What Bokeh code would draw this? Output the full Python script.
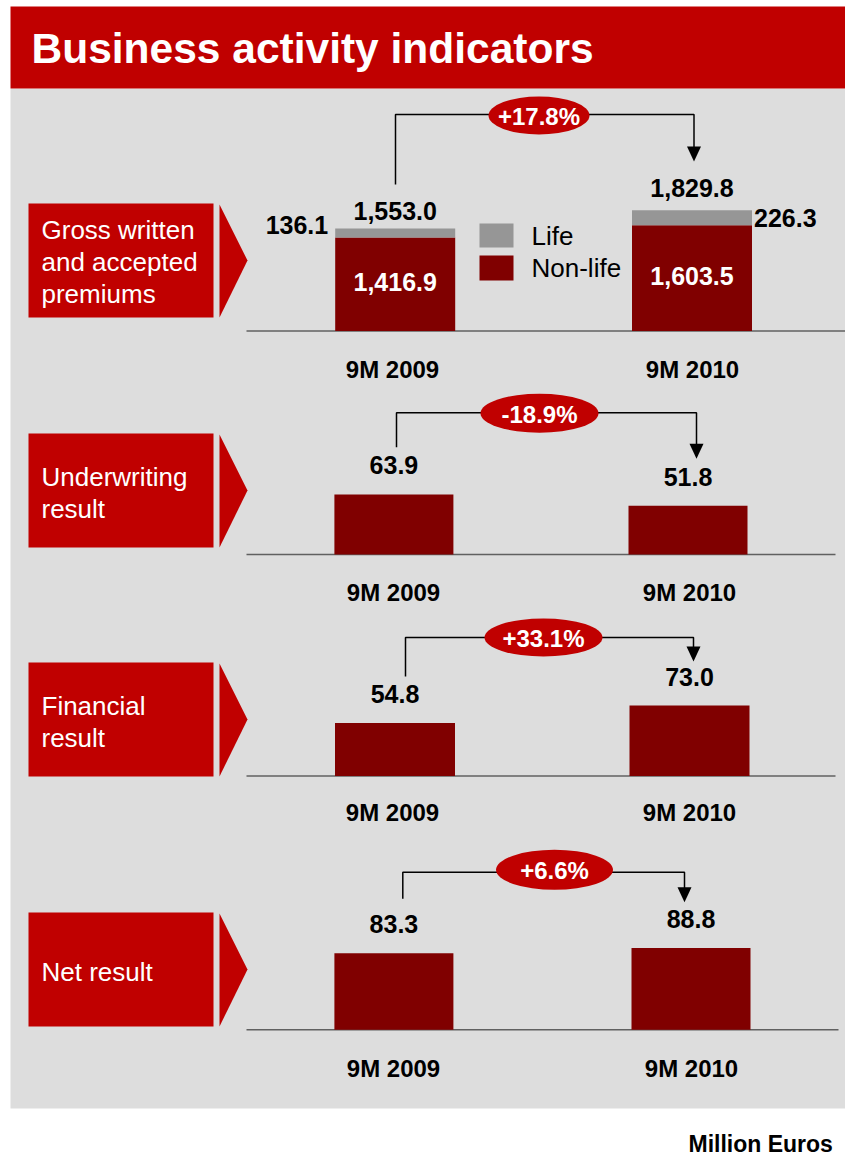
from bokeh.plotting import figure
from bokeh.models import Range1d
from bokeh.embed import file_html
from bokeh.resources import INLINE
from bokeh.core.properties import value

# ---------------- data ----------------
title = "Business activity indicators"
unit_note = "Million Euros"
periods = ["9M 2009", "9M 2010"]
series_names = ["Life", "Non-life"]

gwp_life = [136.1, 226.3]
gwp_nonlife = [1416.9, 1603.5]
gwp_total = [1553.0, 1829.8]
gwp_change = "+17.8%"

uw_result = [63.9, 51.8]
uw_change = "-18.9%"

fin_result = [54.8, 73.0]
fin_change = "+33.1%"

net_result = [83.3, 88.8]
net_change = "+6.6%"

panel_titles = [
    ["Gross written", "and accepted", "premiums"],
    ["Underwriting", "result"],
    ["Financial", "result"],
    ["Net result"],
]

# ---------------- style ----------------
RED = "#C00000"
DARK = "#800000"
GREY = "#969696"
BG = "#DDDDDD"
AXIS = "#606060"
FONT = value("Liberation Sans")

W, H = 845, 1158

p = figure(width=W, height=H, x_range=Range1d(0, W), y_range=Range1d(H, 0),
           output_backend="svg", toolbar_location=None,
           x_axis_location=None, y_axis_location=None, min_border=0)
p.grid.visible = False
p.outline_line_color = None
p.background_fill_color = "white"
p.border_fill_color = "white"

# background areas
p.quad(left=[10], right=[845], top=[88], bottom=[1108], color=BG, line_color=None)
p.quad(left=[10], right=[845], top=[6], bottom=[88], color=RED, line_color=None)
p.text(x=[31], y=[48], text=[title], text_color="white", text_font=FONT,
       text_font_style="bold", text_font_size=value("42.5px"), text_baseline="middle")
p.text(x=[688], y=[1143], text=[unit_note], text_color="black", text_font=FONT,
       text_font_style="bold", text_font_size=value("23px"), text_baseline="middle")

# ---------------- panel layouts ----------------
panels = [
    dict(name="gwp", base=330.5, k=0.066, box=(203, 317), tl=[229, 261, 293],
         bx=[394.7, 691.5], bw=120, ax1=845, cat_y=368.5, cat_x=[392, 692],
         arrow=dict(y=114, xl=395, xr=693.5, yl=184, tip=161),
         ell=(538.5, 115, 101, 38), change=gwp_change, vals=gwp_total),
    dict(name="uw", base=554, k=0.94, box=(433, 547), tl=[476, 508],
         bx=[393.4, 687.5], bw=119, ax1=835, cat_y=591.5, cat_x=[393, 689],
         arrow=dict(y=412.3, xl=396, xr=696, yl=446.7, tip=458.3),
         ell=(539, 412.7, 118, 39), change=uw_change, vals=uw_result),
    dict(name="fin", base=775.5, k=0.965, box=(662, 776), tl=[705, 737],
         bx=[394.5, 689], bw=120, ax1=835, cat_y=811.5, cat_x=[392, 689],
         arrow=dict(y=637, xl=405, xr=693, yl=676, tip=661),
         ell=(543, 637, 118, 38), change=fin_change, vals=fin_result),
    dict(name="net", base=1029.3, k=0.92, box=(912, 1026), tl=[971],
         bx=[393.4, 690.5], bw=119, ax1=838, cat_y=1067.5, cat_x=[393, 691],
         arrow=dict(y=871.7, xl=402.3, xr=684, yl=898.3, tip=901.7),
         ell=(554, 869.3, 117, 40), change=net_change, vals=net_result),
]

ranges = {}
for pn in panels:
    b, k = pn["base"], pn["k"]
    ranges[pn["name"]] = Range1d(start=(b - H) / k, end=b / k)
p.extra_y_ranges = ranges

for i, pn in enumerate(panels):
    t, bt = pn["box"]
    # label box + chevron
    p.quad(left=[28], right=[213], top=[t], bottom=[bt], color=RED, line_color=None)
    p.patch(x=[219, 247, 219], y=[t + 1, (t + bt) / 2, bt], color=RED, line_color=None)
    for line, ym in zip(panel_titles[i], pn["tl"]):
        p.text(x=[41], y=[ym], text=[line], text_color="white", text_font=FONT,
               text_font_size=value("26px"), text_baseline="middle")
    # baseline
    p.segment(x0=[246], x1=[pn["ax1"]], y0=[0], y1=[0], line_color=AXIS,
              line_width=1.5, y_range_name=pn["name"])
    # category labels
    p.text(x=pn["cat_x"], y=[pn["cat_y"]] * 2, text=periods, text_color="black",
           text_font=FONT, text_font_style="bold", text_font_size=value("24px"),
           text_align="center", text_baseline="middle")
    # change arrow
    a = pn["arrow"]
    p.line(x=[a["xl"], a["xl"], a["xr"], a["xr"]],
           y=[a["yl"], a["y"], a["y"], a["tip"] - 10], line_color="black", line_width=1.5)
    p.patch(x=[a["xr"] - 7, a["xr"] + 7, a["xr"]], y=[a["tip"] - 15, a["tip"] - 15, a["tip"]],
            color="black", line_color=None)
    ex, ey, ew, eh = pn["ell"]
    p.ellipse(x=[ex], y=[ey], width=[ew], height=[eh], color=RED, line_color=None)
    p.text(x=[ex], y=[ey + 1], text=[pn["change"]], text_color="white", text_font=FONT,
           text_font_style="bold", text_font_size=value("24px"), text_align="center",
           text_baseline="middle")

# ---------------- panel 1: stacked bars ----------------
g = panels[0]
p.vbar(x=g["bx"], bottom=0, top=gwp_nonlife, width=g["bw"], color=DARK,
       line_color=None, y_range_name="gwp")
p.vbar(x=g["bx"], bottom=gwp_nonlife, top=gwp_total, width=g["bw"], color=GREY,
       line_color=None, y_range_name="gwp")
p.text(x=g["bx"], y=[v / 2 for v in gwp_nonlife], text=[f"{v:,.1f}" for v in gwp_nonlife],
       y_offset=-2, text_color="white", text_font=FONT, text_font_style="bold",
       text_font_size=value("25px"), text_align="center", text_baseline="middle",
       y_range_name="gwp")
p.text(x=g["bx"], y=gwp_total, text=[f"{v:,.1f}" for v in gwp_total],
       y_offset=[-18, -22], text_color="black", text_font=FONT, text_font_style="bold",
       text_font_size=value("25px"), text_align="center", text_baseline="middle",
       y_range_name="gwp")
p.text(x=[g["bx"][0] - g["bw"] / 2 - 7], y=[gwp_total[0]], text=[f"{gwp_life[0]:,.1f}"],
       y_offset=-4, text_color="black", text_font=FONT, text_font_style="bold",
       text_font_size=value("25px"), text_align="right", text_baseline="middle",
       y_range_name="gwp")
p.text(x=[g["bx"][1] + g["bw"] / 2 + 2], y=[gwp_total[1]], text=[f"{gwp_life[1]:,.1f}"],
       y_offset=8, text_color="black", text_font=FONT, text_font_style="bold",
       text_font_size=value("25px"), text_align="left", text_baseline="middle",
       y_range_name="gwp")
# legend
p.quad(left=[479, 479], right=[513, 513], top=[223, 255], bottom=[247, 280],
       color=[GREY, DARK], line_color=None)
p.text(x=[531, 531], y=[235, 267], text=series_names, text_color="black", text_font=FONT,
       text_font_size=value("26px"), text_baseline="middle")

# ---------------- panels 2-4: single bars ----------------
for pn in panels[1:]:
    p.vbar(x=pn["bx"], bottom=0, top=pn["vals"], width=pn["bw"], color=DARK,
           line_color=None, y_range_name=pn["name"])
    p.text(x=pn["bx"], y=pn["vals"], text=[f"{v:,.1f}" for v in pn["vals"]],
           y_offset=-29, text_color="black", text_font=FONT, text_font_style="bold",
           text_font_size=value("25px"), text_align="center", text_baseline="middle",
           y_range_name=pn["name"])

open("out.html", "w").write(file_html(p, INLINE))
